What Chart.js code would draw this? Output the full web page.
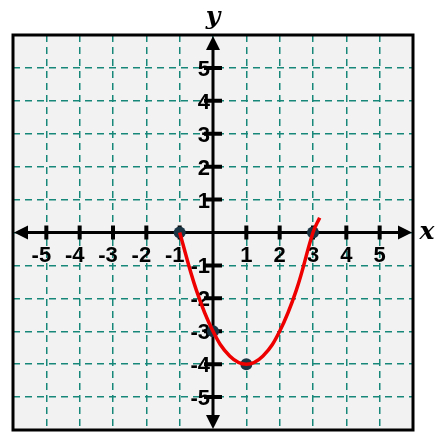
<!DOCTYPE html>
<html><head><meta charset="utf-8">
<script src="https://cdn.jsdelivr.net/npm/chart.js@4/dist/chart.umd.min.js"></script>
<style>html,body{margin:0;background:#fff}canvas{display:block}</style>
</head><body>
<canvas id="c" width="444" height="443"></canvas>
<script>
// curve
const curveX = [-1, -0.5, 0, 0.5, 1, 1.5, 2, 2.5, 3, 3.2];
const curveY = [0, -1.75, -3, -3.75, -4, -3.75, -3, -1.75, 0, 0.45];
// marked points
const dotX = [-1, 0, 1, 3];
const dotY = [0, -3, -4, 0];
const tickVals = [-5, -4, -3, -2, -1, 1, 2, 3, 4, 5];

const axesPlugin = {
  id: 'axes',
  beforeDraw(chart) {
    const { ctx, chartArea: a } = chart;
    ctx.save();
    ctx.fillStyle = '#f2f2f2';
    ctx.fillRect(a.left, a.top, a.right - a.left, a.bottom - a.top);
    ctx.restore();
  },
  beforeDatasetsDraw(chart) {
    const { ctx, chartArea: a, scales: { x, y } } = chart;
    const x0 = x.getPixelForValue(0), y0 = y.getPixelForValue(0);
    ctx.save();
    ctx.strokeStyle = '#000';
    ctx.lineWidth = 3;
    ctx.strokeRect(a.left, a.top, a.right - a.left, a.bottom - a.top);
    ctx.beginPath();
    ctx.moveTo(a.left + 8, y0); ctx.lineTo(a.right - 8, y0);
    ctx.moveTo(x0, a.top + 8); ctx.lineTo(x0, a.bottom - 8);
    ctx.stroke();
    ctx.fillStyle = '#000';
    const arrow = (px, py, dx, dy) => {
      ctx.beginPath();
      ctx.moveTo(px, py);
      ctx.lineTo(px - dx * 14 - dy * 7, py - dy * 14 - dx * 7);
      ctx.lineTo(px - dx * 14 + dy * 7, py - dy * 14 + dx * 7);
      ctx.closePath(); ctx.fill();
    };
    arrow(a.right - 1, y0, 1, 0); arrow(a.left + 1, y0, -1, 0);
    arrow(x0, a.top + 1, 0, -1); arrow(x0, a.bottom - 1, 0, 1);
    ctx.lineWidth = 4;
    ctx.font = 'bold 22px "Liberation Sans", Arial, sans-serif';
    tickVals.forEach(v => {
      const px = x.getPixelForValue(v), py = y.getPixelForValue(v);
      ctx.beginPath();
      ctx.moveTo(px, y0 - 7); ctx.lineTo(px, y0 + 7);
      ctx.moveTo(x0 - 9, py); ctx.lineTo(x0 + 9, py);
      ctx.stroke();
      ctx.textAlign = 'center'; ctx.textBaseline = 'top';
      ctx.fillText(String(v), px - (v < 0 ? 5 : 0), y0 + 12);
      ctx.textAlign = 'right'; ctx.textBaseline = 'middle';
      ctx.fillText(String(v), x0 - 3, py + 2);
    });
    ctx.font = 'bold italic 25px "DejaVu Serif", serif';
    ctx.textAlign = 'center'; ctx.textBaseline = 'middle';
    ctx.fillText('y', x0, a.top - 18);
    ctx.fillText('x', a.right + 14, y0);
    ctx.restore();
  }
};

new Chart(document.getElementById('c'), {
  type: 'scatter',
  data: {
    datasets: [
      {
        data: curveX.map((v, i) => ({ x: v, y: curveY[i] })),
        showLine: true, borderColor: '#ee0000', borderWidth: 3.5,
        pointRadius: 0, tension: 0.4
      },
      {
        data: dotX.map((v, i) => ({ x: v, y: dotY[i] })),
        pointRadius: 6, pointBackgroundColor: '#1b3444', pointBorderWidth: 0
      }
    ]
  },
  options: {
    responsive: false, animation: false,
    layout: { padding: { left: 13, right: 31, top: 35, bottom: 13 } },
    plugins: { legend: { display: false }, tooltip: { enabled: false } },
    scales: {
      x: {
        min: -6, max: 6,
        ticks: { display: false, stepSize: 1 },
        grid: { color: '#17877a', lineWidth: 1.5, drawTicks: false },
        border: { display: false, dash: [7, 5] }
      },
      y: {
        min: -6, max: 6,
        ticks: { display: false, stepSize: 1 },
        grid: { color: '#17877a', lineWidth: 1.5, drawTicks: false },
        border: { display: false, dash: [7, 5] }
      }
    }
  },
  plugins: [axesPlugin]
});
</script>
</body></html>
